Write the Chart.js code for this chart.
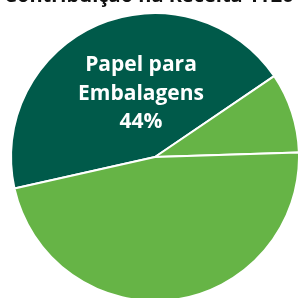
<!DOCTYPE html>
<html>
<head>
<meta charset="utf-8">
<script src="https://cdn.jsdelivr.net/npm/chart.js@4.4.1/dist/chart.umd.min.js"></script>
<style>
html,body{margin:0;padding:0;background:#fff;overflow:hidden;}
#wrap{width:298px;height:298px;position:relative;}
</style>
</head>
<body>
<div id="wrap"><canvas id="c" width="298" height="298"></canvas></div>
<script>
const titleText = "Contribuição na Receita 1T20";
const categories = ["Papel para Embalagens", "Outros", "Demais"];
const values = [44, 9, 47];
const labelLines = ["Papel para", "Embalagens", "44%"];
const colors = ["#005A4A", "#66B446", "#66B446"];

const overlay = {
  id: 'overlay',
  afterDraw(chart) {
    const ctx = chart.ctx;
    ctx.save();
    ctx.fillStyle = '#111';
    ctx.font = 'bold 20px "Open Sans", sans-serif';
    ctx.textAlign = 'center';
    ctx.textBaseline = 'alphabetic';
    ctx.fillText(titleText, 149, 2);
    ctx.fillStyle = '#fff';
    ctx.font = 'bold 21px "Open Sans", sans-serif';
    const ys = [71, 100, 128];
    labelLines.forEach((t, i) => ctx.fillText(t, 141, ys[i]));
    ctx.restore();
  }
};

new Chart(document.getElementById('c'), {
  type: 'pie',
  data: {
    labels: categories,
    datasets: [{
      data: values,
      backgroundColor: colors,
      borderColor: '#ffffff',
      borderWidth: 2,
      radius: 144
    }]
  },
  options: {
    responsive: false,
    animation: false,
    rotation: 257.4,
    layout: { padding: { left: 12, right: 0, top: 16, bottom: 0 } },
    plugins: { legend: { display: false }, tooltip: { enabled: false }, title: { display: false } }
  },
  plugins: [overlay]
});
</script>
</body>
</html>
